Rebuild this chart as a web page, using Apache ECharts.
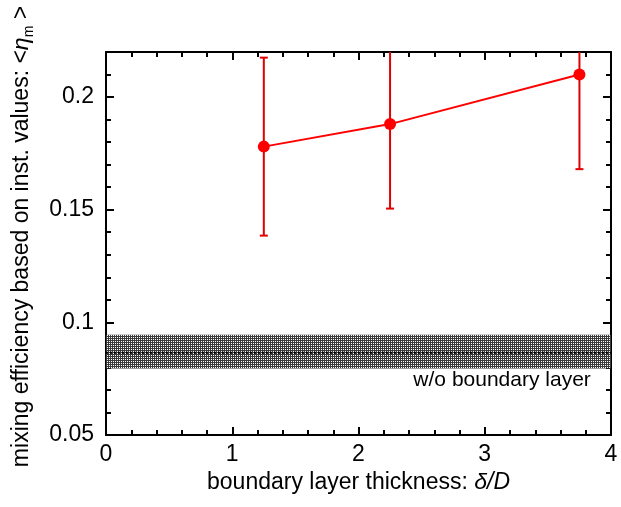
<!DOCTYPE html>
<html><head><meta charset="utf-8">
<script src="https://cdn.jsdelivr.net/npm/echarts@6/dist/echarts.min.js"></script>
<style>html,body{margin:0;padding:0;background:#fff}#c{width:621px;height:507px}</style>
</head><body><div id="c"></div>
<script>
// ---- data ----
const thickness = [1.25, 2.25, 3.75];          // delta/D
const efficiency = [0.178, 0.188, 0.210];      // <eta_m>
const errHigh = [0.2175, 0.2255, 0.2525];
const errLow = [0.1385, 0.1505, 0.168];
const refMean = 0.0865;
const refLow = 0.0795;
const refHigh = 0.0945;
const refLabel = 'w/o boundary layer';
const refLabelX = 3.84;
const xTickLabels = [0, 1, 2, 3, 4];
const yTickLabels = [0.05, 0.1, 0.15, 0.2];

const FONT = 'Liberation Sans, Arial, sans-serif';
const FS = 23;

// hatch pattern for the reference band
const pc = document.createElement('canvas');
pc.width = 2; pc.height = 2;
const pctx = pc.getContext('2d');
pctx.fillStyle = '#3a3a3a'; pctx.fillRect(0, 0, 2, 2);
pctx.fillStyle = '#ffffff'; pctx.fillRect(1, 1, 1, 1);

const chart = echarts.init(document.getElementById('c'), null, {renderer: 'canvas'});

function majorAxis(pos, isX, showLabel) {
  return {
    type: 'value', position: pos,
    min: isX ? 0 : 0.05, max: isX ? 4 : 0.22, interval: isX ? 1 : 0.05,
    axisLine: {show: true, onZero: false, lineStyle: {color: '#000', width: 2}},
    axisTick: {show: true, inside: true, length: 8, lineStyle: {color: '#000', width: 2}},
    axisLabel: {show: showLabel, color: '#000', fontFamily: FONT, fontSize: FS, margin: isX ? 8 : 12,
      formatter: function (v) {
        const list = isX ? xTickLabels : yTickLabels;
        for (const t of list) { if (Math.abs(t - v) < 1e-9) return String(t); }
        return '';
      }},
    splitLine: {show: false}
  };
}
function minorAxis(pos, isX) {
  return {
    type: 'value', position: pos,
    min: isX ? 0 : 0.05, max: isX ? 4 : 0.22, interval: isX ? 0.2 : 0.01,
    axisLine: {show: false, onZero: false},
    axisTick: {show: true, inside: true, length: 5, lineStyle: {color: '#000', width: 2}},
    axisLabel: {show: false},
    splitLine: {show: false}
  };
}

const xAxes = [majorAxis('bottom', true, true), minorAxis('bottom', true), majorAxis('top', true, false), minorAxis('top', true)];
xAxes[0].name = 'boundary layer thickness: {i|δ/D}';
xAxes[0].nameLocation = 'middle';
xAxes[0].nameGap = 36;
xAxes[0].nameTextStyle = {color: '#000', fontFamily: FONT, fontSize: FS,
  rich: {i: {fontStyle: 'italic', fontFamily: FONT, fontSize: FS, color: '#000'}}};

const yAxes = [majorAxis('left', false, true), minorAxis('left', false), majorAxis('right', false, false), minorAxis('right', false)];
yAxes[0].name = 'mixing efficiency based on inst. values: <{e|η}{s|m}{g| >}';
yAxes[0].nameLocation = 'middle';
yAxes[0].nameRotate = 90;
yAxes[0].nameGap = 70;
yAxes[0].nameTextStyle = {color: '#000', fontFamily: FONT, fontSize: FS, lineHeight: 28, padding: [0, 0, 0, 14],
  rich: {
    e: {fontStyle: 'italic', fontFamily: FONT, fontSize: FS, color: '#000', lineHeight: 28},
    s: {fontFamily: FONT, fontSize: 14, color: '#000', lineHeight: 14, verticalAlign: 'bottom'},
    g: {fontFamily: FONT, fontSize: FS, color: '#000', lineHeight: 28}
  }};

const option = {
  backgroundColor: '#fff',
  animation: false,
  grid: {left: 104, right: 10, top: 52, bottom: 72, containLabel: false},
  xAxis: xAxes,
  yAxis: yAxes,
  series: [
    {
      type: 'line', xAxisIndex: 0, yAxisIndex: 0,
      data: [[0, refMean], [4, refMean]],
      symbol: 'none', silent: true,
      lineStyle: {color: '#000', width: 2, type: [2, 2]},
      z: 2,
      markArea: {
        silent: true,
        itemStyle: {color: {image: pc, repeat: 'repeat'}, opacity: 1},
        data: [[{yAxis: refLow}, {yAxis: refHigh}]]
      }
    },
    {
      type: 'scatter', xAxisIndex: 0, yAxisIndex: 0,
      data: [[refLabelX, refLow]], symbolSize: 0, silent: true,
      itemStyle: {opacity: 1},
      label: {show: true, formatter: refLabel, position: [0, 1], align: 'right', verticalAlign: 'top',
        color: '#000', opacity: 1, fontFamily: FONT, fontSize: 21}
    },
    {
      type: 'custom', xAxisIndex: 0, yAxisIndex: 0, clip: true, z: 3,
      data: thickness.map((x, i) => [x, errLow[i], errHigh[i]]),
      renderItem: function (params, api) {
        const lo = api.coord([api.value(0), api.value(1)]);
        const hi = api.coord([api.value(0), api.value(2)]);
        const w = 4;
        const st = {stroke: '#e00000', lineWidth: 2};
        return {type: 'group', children: [
          {type: 'line', shape: {x1: lo[0], y1: lo[1], x2: hi[0], y2: hi[1]}, style: st},
          {type: 'line', shape: {x1: lo[0] - w, y1: lo[1], x2: lo[0] + w, y2: lo[1]}, style: st},
          {type: 'line', shape: {x1: hi[0] - w, y1: hi[1], x2: hi[0] + w, y2: hi[1]}, style: st}
        ]};
      }
    },
    {
      type: 'line', xAxisIndex: 0, yAxisIndex: 0, z: 4,
      data: thickness.map((x, i) => [x, efficiency[i]]),
      symbol: 'circle', symbolSize: 12,
      lineStyle: {color: '#ff0000', width: 2},
      itemStyle: {color: '#ff0000'}
    }
  ]
};
chart.setOption(option);
</script></body></html>
